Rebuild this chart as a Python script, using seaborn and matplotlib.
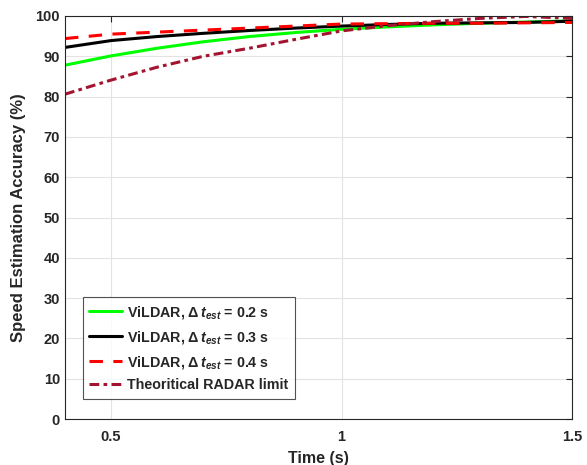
import matplotlib
matplotlib.use("Agg")
import matplotlib.pyplot as plt
import seaborn as sns
import pandas as pd

sns.set_style("white")
plt.rcParams['font.family'] = ['Liberation Sans', 'DejaVu Sans']
plt.rcParams['font.weight'] = 'bold'
plt.rcParams['mathtext.fontset'] = 'custom'
plt.rcParams['mathtext.rm'] = 'Liberation Sans:bold'
plt.rcParams['mathtext.it'] = 'Liberation Sans:bold:italic'
plt.rcParams['mathtext.bf'] = 'Liberation Sans:bold'

time = [0.4, 0.5, 0.6, 0.7, 0.8, 0.9, 1.0, 1.1, 1.2, 1.3, 1.4, 1.5]
vildar_02 = [87.8, 90.1, 92.0, 93.6, 94.9, 95.9, 96.7, 97.3, 97.8, 98.2, 98.5, 98.8]
vildar_03 = [92.2, 93.9, 94.9, 95.7, 96.4, 97.0, 97.5, 97.9, 98.2, 98.3, 98.4, 98.7]
vildar_04 = [94.4, 95.5, 96.0, 96.5, 97.0, 97.5, 98.0, 98.1, 98.2, 98.2, 98.3, 98.4]
radar = [80.6, 84.1, 87.3, 90.0, 92.0, 94.2, 96.3, 97.6, 98.6, 99.4, 99.9, 99.4]

labels = [r'ViLDAR, $\Delta\,t_{est}$ = 0.2 s',
          r'ViLDAR, $\Delta\,t_{est}$ = 0.3 s',
          r'ViLDAR, $\Delta\,t_{est}$ = 0.4 s',
          'Theoritical RADAR limit']
series = [vildar_02, vildar_03, vildar_04, radar]

rows = []
for lab, vals in zip(labels, series):
    for t, v in zip(time, vals):
        rows.append({'Time': t, 'Accuracy': v, 'Series': lab})
df = pd.DataFrame(rows)

colors = ['#00FF00', '#000000', '#FF0000', '#A2142F']
dashes = [None, None, (4.4, 3.4), (3.2, 1.4, 1.2, 1.4)]

fig = plt.figure(figsize=(5.87, 4.65), dpi=100)
ax = fig.add_axes([0.1107, 0.0989, 0.8637, 0.8667])

for lab, c, d in zip(labels, colors, dashes):
    sub = df[df['Series'] == lab]
    sns.lineplot(data=sub, x='Time', y='Accuracy', ax=ax, color=c,
                 linewidth=2.2, label=lab)
    if d is not None:
        ax.lines[-1].set_dashes(d)

ax.set_xlim(0.4, 1.5)
ax.set_ylim(0, 100)
ax.set_xticks([0.5, 1.0, 1.5])
ax.set_xticklabels(['0.5', '1', '1.5'])
ax.set_yticks(range(0, 101, 10))
ax.grid(True, color='#E3E3E3', linewidth=0.8)
ax.set_axisbelow(True)
ax.tick_params(direction='in', top=True, right=True, labelsize=10.5,
               length=4, color='#262626', width=0.8)
ax.tick_params(axis='x', pad=8)
for s in ax.spines.values():
    s.set_color('#262626')
    s.set_linewidth(0.8)
ax.set_xlabel('Time (s)', fontsize=11.5, fontweight='bold', labelpad=5)
ax.set_ylabel('Speed Estimation Accuracy (%)', fontsize=12, fontweight='bold', labelpad=7)

leg = ax.legend(loc='lower left', bbox_to_anchor=(0.035, 0.05), fontsize=10.3,
                frameon=True, fancybox=False, edgecolor='#262626',
                handlelength=2.3, borderpad=0.45, labelspacing=0.55, handletextpad=0.35,
                borderaxespad=0)
leg.get_frame().set_linewidth(0.8)

fig.savefig('out.png', dpi=100)
